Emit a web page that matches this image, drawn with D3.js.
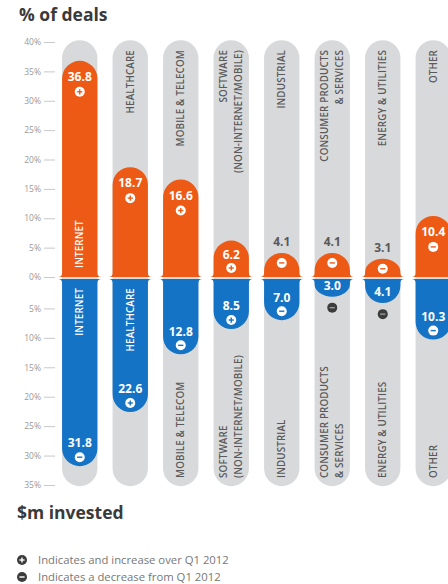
<!DOCTYPE html>
<html><head><meta charset="utf-8">
<script src="https://cdn.jsdelivr.net/npm/d3@7"></script>
<style>
body{margin:0;background:#fff;}
svg{display:block;font-family:"Open Sans",sans-serif;}
</style></head>
<body>
<svg id="chart" width="448" height="584"></svg>
<script>
const categories = ["INTERNET","HEALTHCARE","MOBILE & TELECOM","SOFTWARE|(NON-INTERNET/MOBILE)","INDUSTRIAL","CONSUMER PRODUCTS|& SERVICES","ENERGY & UTILITIES","OTHER"];
const dealsPct = [36.8, 18.7, 16.6, 6.2, 4.1, 4.1, 3.1, 10.4];
const dealsChange = ["+","+","+","+","-","-","-","-"];
const investedPct = [31.8, 22.6, 12.8, 8.5, 7.0, 3.0, 4.1, 10.3];
const investedChange = ["-","+","-","+","-","-","-","-"];
const topTicks = [0,5,10,15,20,25,30,35,40];
const bottomTicks = [5,10,15,20,25,30,35];
const legendItems = [["+","Indicates and increase over Q1 2012"],["-","Indicates a decrease from Q1 2012"]];

const ORANGE="#ec5a15", BLUE="#1473c5", GRAY="#d8d9db", TXT="#5a5a5a", DARK="#3c3c3c";
const svg = d3.select("#chart");

const x = d3.scaleBand().domain(d3.range(categories.length)).range([54.5,458.5]).paddingInner(0.3).paddingOuter(0.15);
const w = x.bandwidth();
const yTop = d3.scaleLinear().domain([0,40]).range([277,42]);
const yBot = d3.scaleLinear().domain([0,35]).range([279,485]);

// titles
svg.append("text").attr("x",19).attr("y",21).attr("font-size",17.5).attr("font-weight",700).attr("fill","#3a3a3a").text("% of deals");
svg.append("text").attr("x",17).attr("y",519).attr("font-size",17.5).attr("font-weight",700).attr("fill","#3a3a3a").text("$m invested");

// axes
function styleAxis(g){
  g.select(".domain").remove();
  g.selectAll(".tick line").attr("stroke","#c8c8c8");
  g.selectAll(".tick text").attr("fill","#9a9a9a").attr("font-size",8.5).attr("font-family","Open Sans, sans-serif");
}
svg.append("g").attr("transform","translate(55,0)")
  .call(d3.axisLeft(yTop).tickValues(topTicks).tickSize(11).tickPadding(3).tickFormat(d=>d+"%")).call(styleAxis);
svg.append("g").attr("transform","translate(55,0)")
  .call(d3.axisLeft(yBot).tickValues(bottomTicks).tickSize(11).tickPadding(3).tickFormat(d=>d+"%")).call(styleAxis);

// gray columns
svg.append("g").selectAll("rect").data(categories).join("rect")
  .attr("x",(d,i)=>x(i)).attr("width",w)
  .attr("y",yTop(40.3)).attr("height",yBot(35.2)-yTop(40.3))
  .attr("rx",w/2).attr("ry",w/2).attr("fill",GRAY);

const f = 4;
function upPath(i,v){
  const x0=x(i), x1=x(i)+w, yb=yTop(0), yt=yTop(v);
  const ry=Math.min(w/2, yb-yt-f-1);
  return `M${x0-f},${yb}Q${x0},${yb},${x0},${yb-f}L${x0},${yt+ry}A${w/2},${ry} 0 0 1 ${x1},${yt+ry}L${x1},${yb-f}Q${x1},${yb},${x1+f},${yb}Z`;
}
function downPath(i,v){
  const x0=x(i), x1=x(i)+w, yb=yBot(0), yB=yBot(v);
  const ry=Math.min(w/2, yB-yb-f-1);
  return `M${x0-f},${yb}Q${x0},${yb},${x0},${yb+f}L${x0},${yB-ry}A${w/2},${ry} 0 0 0 ${x1},${yB-ry}L${x1},${yb+f}Q${x1},${yb},${x1+f},${yb}Z`;
}
svg.append("g").selectAll("path").data(dealsPct).join("path").attr("d",(d,i)=>upPath(i,d)).attr("fill",ORANGE);
svg.append("g").selectAll("path").data(investedPct).join("path").attr("d",(d,i)=>downPath(i,d)).attr("fill",BLUE);

function icon(g,cx,cy,sign,fill,stroke){
  g.append("circle").attr("cx",cx).attr("cy",cy).attr("r",5).attr("fill",fill);
  g.append("line").attr("x1",cx-2.6).attr("x2",cx+2.6).attr("y1",cy).attr("y2",cy).attr("stroke",stroke).attr("stroke-width",1.4);
  if(sign==="+") g.append("line").attr("x1",cx).attr("x2",cx).attr("y1",cy-2.6).attr("y2",cy+2.6).attr("stroke",stroke).attr("stroke-width",1.4);
}
function valText(g,cx,cy,t,fill){
  g.append("text").attr("x",cx).attr("y",cy).attr("dy","0.36em").attr("text-anchor","middle")
   .attr("font-size",12).attr("font-weight",700).attr("fill",fill).text(t);
}
const lab = svg.append("g");
dealsPct.forEach((v,i)=>{
  const cx=x(i)+w/2, yt=yTop(v), yb=yTop(0);
  if(v<5){
    valText(lab,cx,yt-11,v.toFixed(1),TXT);
    icon(lab,cx,yt+10,dealsChange[i],"#fff",ORANGE);
  } else {
    const iy=Math.min(yt+31, yb-9);
    valText(lab,cx,Math.min(yt+16, iy-13),v.toFixed(1),"#fff");
    icon(lab,cx,iy,dealsChange[i],"#fff",ORANGE);
  }
});
investedPct.forEach((v,i)=>{
  const cx=x(i)+w/2, yB=yBot(v);
  if(v<5){
    valText(lab,cx,yB-11,v.toFixed(1),"#fff");
    icon(lab,cx,yB+11,investedChange[i],DARK,"#9a9a9a");
  } else {
    valText(lab,cx,yB-23,v.toFixed(1),"#fff");
    icon(lab,cx,yB-9,investedChange[i],"#fff",BLUE);
  }
});

// category labels
function catLabel(cx,y,name,anchor,fill){
  const lines=name.split("|");
  const t=lab.append("text").attr("transform",`translate(${cx},${y}) rotate(-90)`)
    .attr("text-anchor",anchor).attr("font-size",9.8).attr("font-weight",600).attr("fill",fill).attr("letter-spacing",0.15);
  lines.forEach((l,k)=>{
    t.append("tspan").attr("x",0).attr("y",(k-(lines.length-1)/2)*15).attr("dy","0.36em").text(l);
  });
}
categories.forEach((c,i)=>{
  const cx=x(i)+w/2;
  if(dealsPct[i]>20) catLabel(cx,268,c,"start","#fff");
  else catLabel(cx,50,c,"end",TXT);
  if(investedPct[i]>20) catLabel(cx,288,c,"end","#fff");
  else catLabel(cx,478,c,"start",TXT);
});

// legend
const lg = svg.append("g");
legendItems.forEach((d,k)=>{
  const cy=560+k*17;
  icon(lg,22,cy,d[0],DARK,"#fff");
  lg.append("text").attr("x",38).attr("y",cy).attr("dy","0.35em").attr("font-size",11.3).attr("fill","#777").text(d[1]);
});
</script>
</body></html>
